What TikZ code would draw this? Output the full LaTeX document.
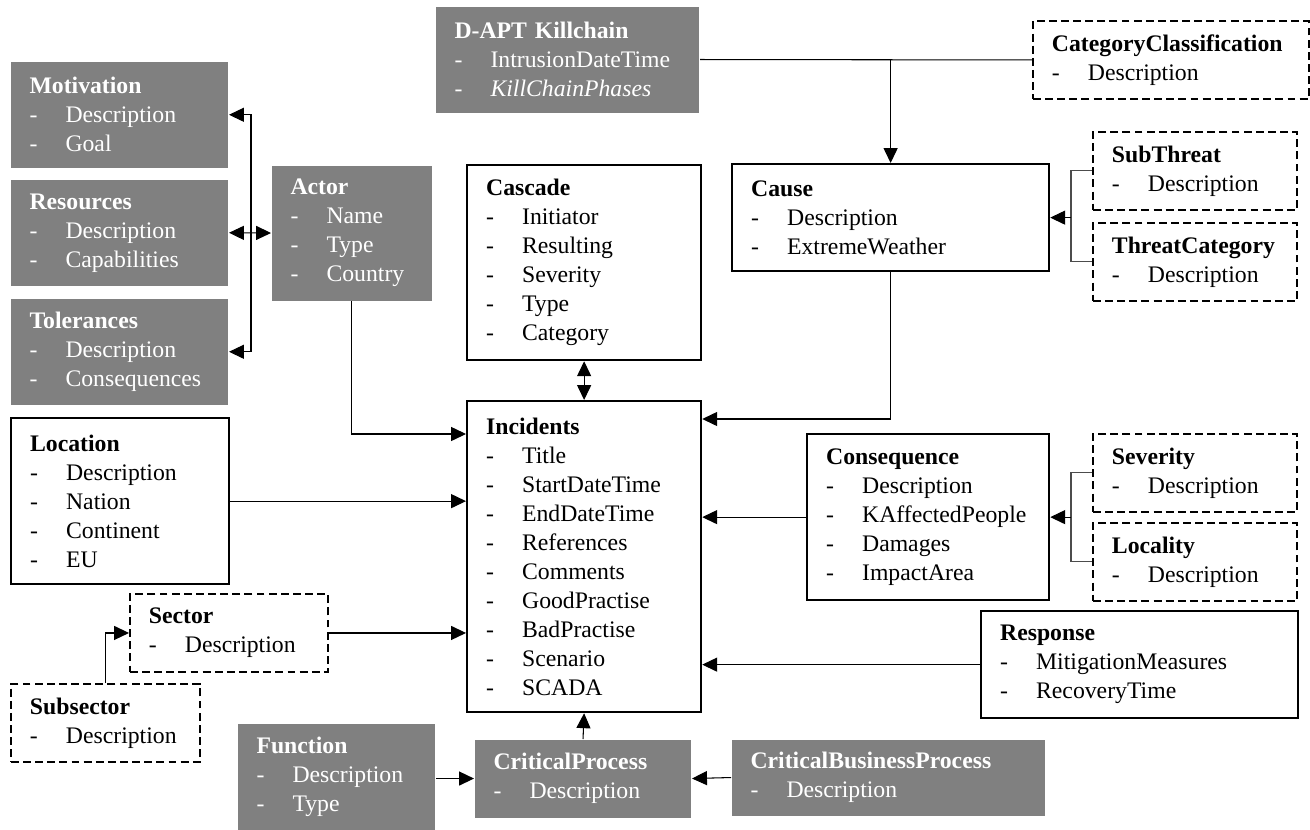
\documentclass[tikz,border=0pt]{standalone}
\usepackage{fontspec}
\setmainfont{Liberation Serif}
\usetikzlibrary{arrows.meta}
\newcommand{\itm}[1]{\makebox[0.72cm][l]{-}#1}

\begin{document}
\begin{tikzpicture}[x=0.02cm,y=-0.02cm,line width=.6pt,
  font=\fontsize{13.5}{16.5}\selectfont,
  record/.style={anchor=north west,align=left,inner xsep=0.38cm,inner ysep=0pt},
  entity/.style={record,draw,line width=1.3pt},
  optional/.style={record,draw,line width=1.1pt,dash pattern=on 4.5pt off 2.4pt},
  context/.style={record,fill=gray,text=white},
  flow/.style={-{Triangle[length=8.5pt,width=8pt]}},
  both/.style={{Triangle[length=8.5pt,width=8pt]}-{Triangle[length=8.5pt,width=8pt]}},
  bracket/.style={draw=black!70}]
  \useasboundingbox (0,0) rectangle (1310,829);
  \foreach \id/\heading/\yy/\extra in {motivation/Motivation/61/Goal,
    resources/Resources/179/Capabilities,tolerances/Tolerances/298/Consequences}
    \node[context,text width=3.6cm,minimum height=2.13cm] (\id) at (10,\yy)
      {\textbf{\heading}\\\itm{Description}\\\itm{\extra}};
  \node[context,text width=2.44cm,minimum height=2.7cm] (actor) at (271,165)
    {\textbf{Actor}\\\itm{Name}\\\itm{Type}\\\itm{Country}};
  \node[context,text width=4.52cm,minimum height=2.12cm] (killchain) at (435,6)
    {\textbf{D-APT Killchain}\\\itm{IntrusionDateTime}\\\itm{\textit{KillChainPhases}}};
  \node[entity,text width=3.92cm,minimum height=3.9cm] (cascade) at (466,164)
    {\textbf{Cascade}\\\itm{Initiator}\\\itm{Resulting}\\\itm{Severity}\\\itm{Type}\\\itm{Category}};
  \node[entity,text width=5.58cm,minimum height=2.14cm] (cause) at (731,163)
    {\textbf{Cause}\\\itm{Description}\\\itm{ExtremeWeather}};
  \node[entity,text width=3.92cm,minimum height=6.22cm] (incidents) at (466,400)
    {\textbf{Incidents}\\\itm{Title}\\\itm{StartDateTime}\\\itm{EndDateTime}\\\itm{References}\\
     \itm{Comments}\\\itm{GoodPractise}\\\itm{BadPractise}\\\itm{Scenario}\\\itm{SCADA}};
  \node[entity,text width=3.6cm,minimum height=3.32cm] (location) at (10,417)
    {\textbf{Location}\\\itm{Description}\\\itm{Nation}\\\itm{Continent}\\\itm{EU}};
  \node[entity,text width=4.08cm,minimum height=3.32cm] (consequence) at (806,433)
    {\textbf{Consequence}\\\itm{Description}\\\itm{KAffectedPeople}\\\itm{Damages}\\\itm{ImpactArea}};
  \node[entity,text width=5.58cm,minimum height=2.14cm] (response) at (980,610)
    {\textbf{Response}\\\itm{MitigationMeasures}\\\itm{RecoveryTime}};
  \node[context,text width=3.2cm,minimum height=2.12cm] (function) at (237,723)
    {\textbf{Function}\\\itm{Description}\\\itm{Type}};
  \node[context,text width=3.58cm,minimum height=1.56cm] (critproc) at (474,739)
    {\textbf{CriticalProcess}\\\itm{Description}};
  \node[context,text width=5.52cm,minimum height=1.52cm] (critbusproc) at (731,739)
    {\textbf{CriticalBusinessProcess}\\\itm{Description}};
  % dashed lookup tables
  \foreach \id/\heading/\xx/\yy/\tw in {catclass/CategoryClassification/1032/20/4.76,
    subthreat/SubThreat/1092/131/3.32,threatcat/ThreatCategory/1092/222/3.32,
    severity/Severity/1092/433/3.32,locality/Locality/1092/522/3.32,
    sector/Sector/129/593/3.2,subsector/Subsector/10/683/3.02}
    \node[optional,text width=\tw cm,minimum height=1.56cm] (\id) at (\xx,\yy)
      {\textbf{\heading}\\\itm{Description}};
  % connectors
  \draw[both] (resources.east) -- (actor.west);
  \path (resources.east) ++(22,0) coordinate (actorjoin);
  \draw[flow] (actorjoin) |- (motivation.east);
  \draw[flow] (actorjoin) |- (tolerances.east);
  \draw[flow] (actor.south) |- ([yshift=-0.68cm]incidents.north west);
  \draw[flow] (location.east) -- (location.east -| incidents.west);
  \draw[flow] (sector.east) -- (sector.east -| incidents.west);
  \draw[flow] (subsector.north) |- (sector.west);
  \draw[flow] (function.east |- critproc.west) -- (critproc.west);
  \draw[flow] (critbusproc.west) -- (critproc.east);
  \draw[flow] (critproc.north) -- (incidents.south);
  \draw[both] (cascade.south) -- (incidents.north);
  \draw[flow] (cause.south) |- ([yshift=-0.38cm]incidents.north east);
  \draw[flow] (consequence.west) -- (consequence.west -| incidents.east);
  \draw[flow] (response.west) -- (response.west -| incidents.east);
  \draw (killchain.east) -- (catclass.west);
  \draw[flow] (killchain.east -| cause.north) -- (cause.north);
  \path (subthreat.west |- cause.east) ++(-21,0) coordinate (threatjoin);
  \draw[bracket] (subthreat.west) -| (threatjoin) |- (threatcat.west);
  \draw[flow] (threatjoin) -- (cause.east);
  \path (severity.west |- consequence.east) ++(-21,0) coordinate (effectjoin);
  \draw[bracket] (severity.west) -| (effectjoin) |- (locality.west);
  \draw[flow] (effectjoin) -- (consequence.east);
\end{tikzpicture}
\end{document}
